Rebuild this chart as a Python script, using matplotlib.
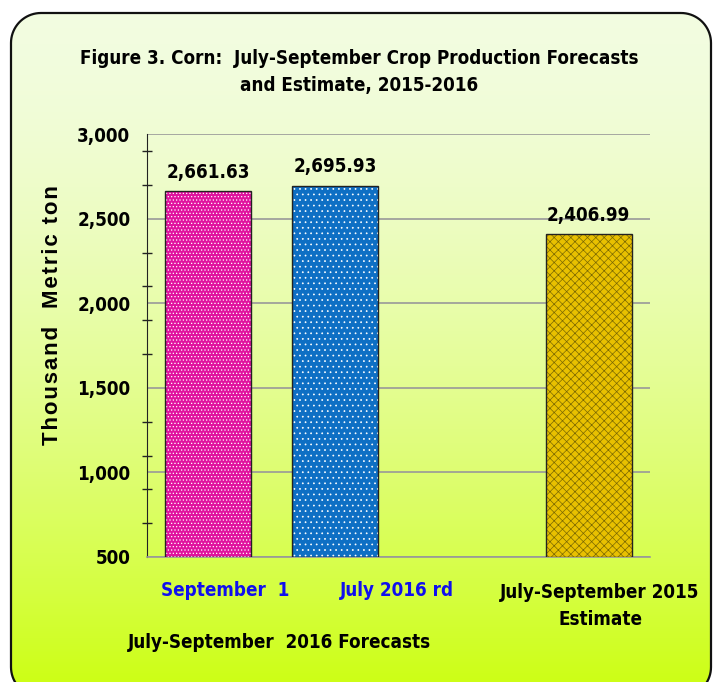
import numpy as np
import matplotlib
matplotlib.use("Agg")
import matplotlib.pyplot as plt
from matplotlib.patches import Polygon
from matplotlib.ticker import FixedLocator, FuncFormatter

# data
categories = ["September  1", "July 2016 rd", "July-September 2015\nEstimate"]
values = [2661.63, 2695.93, 2406.99]
positions = [0, 1, 3]
bar_colors = ["#e0139e", "#0e6fc4", "#e8c000"]
hatch_colors = ["white", "white", "#7a6800"]
hatches = [".....", "...", "xxxx"]
group_label = "July-September  2016 Forecasts"
title = "Figure 3. Corn:  July-September Crop Production Forecasts\nand Estimate, 2015-2016"
ylabel = "Thousand  Metric ton"

plt.rcParams["hatch.linewidth"] = 0.5
narrow = dict(family="DejaVu Sans", fontstretch="condensed", fontweight="bold")
fs = 13.5
W, H = 715, 682
fig = plt.figure(figsize=(W / 100, H / 100), dpi=100)


def rounded_rect(x0, y0, x1, y1, r, n=20):
    # polygon outline of a rounded rectangle (y grows downward)
    pts = []
    for cx, cy, a0 in [(x1 - r, y0 + r, -90), (x1 - r, y1 - r, 0),
                       (x0 + r, y1 - r, 90), (x0 + r, y0 + r, 180)]:
        a = np.radians(np.linspace(a0, a0 + 90, n))
        pts.append(np.column_stack([cx + r * np.cos(a), cy + r * np.sin(a)]))
    return np.vstack(pts)


# background with gradient, rounded border (bottom runs a bit past the edge)
bg = fig.add_axes([0, 0, 1, 1], zorder=-1)
bg.set_xlim(0, W)
bg.set_ylim(H, 0)
bg.axis("off")
t = np.linspace(0, 1, 256) ** 1.6
top = np.array([0.95, 0.99, 0.88])
bot = np.array([0.80, 1.0, 0.06])
grad = top[None, :] * (1 - t[:, None]) + bot[None, :] * t[:, None]
grad = np.repeat(grad[:, None, :], 2, axis=1)
outline = rounded_rect(11, 13, 711, 697, 30)
box = Polygon(outline, closed=True, facecolor="none", edgecolor="#111111",
              linewidth=1.6, transform=bg.transData)
im = bg.imshow(grad, extent=[11, 711, 697, 13], aspect="auto")
im.set_clip_path(box)
bg.add_patch(box)

ax = fig.add_axes([0.2056, 0.1833, 0.703, 0.620])
ax.patch.set_alpha(0)
ax.set_xlim(-0.48, 3.48)
ax.set_ylim(500, 3000)

for p, v, c, hc, h in zip(positions, values, bar_colors, hatch_colors, hatches):
    ax.bar(p, v - 500, bottom=500, width=0.68, color=c, edgecolor=hc, hatch=h,
           linewidth=0, zorder=3)
    ax.bar(p, v - 500, bottom=500, width=0.68, fill=False, edgecolor="#222222",
           linewidth=1.0, zorder=4)
    ax.annotate("{:,.2f}".format(v), (p, v), xytext=(0, 7), textcoords="offset points",
                ha="center", va="bottom", fontsize=fs, **narrow)

ax.yaxis.set_major_locator(FixedLocator(np.arange(500, 3001, 500)))
ax.yaxis.set_minor_locator(FixedLocator(list(np.arange(500, 3000, 200)) + [3000]))
ax.yaxis.set_major_formatter(FuncFormatter(lambda v, p: "{:,.0f}".format(v)))
ax.tick_params(axis="y", which="major", length=0, pad=12, labelsize=fs)
ax.tick_params(axis="y", which="minor", length=7, direction="inout", width=1, color="#222222")
for lab in ax.get_yticklabels():
    lab.set_fontweight("bold")
    lab.set_fontstretch("condensed")
ax.set_xticks([])
ax.yaxis.grid(True, which="major", color="#999999", linewidth=1.2, zorder=0)
ax.set_axisbelow(True)
for s in ["top", "right"]:
    ax.spines[s].set_visible(False)
ax.spines["left"].set_color("#222222")
ax.spines["bottom"].set_color("#999999")
ax.spines["bottom"].set_linewidth(1.2)

# category labels
fig.text(225 / W, 1 - 591 / H, categories[0], ha="center", va="center", color="#1010ee",
         fontsize=fs, **narrow)
fig.text(397 / W, 1 - 591 / H, categories[1], ha="center", va="center", color="#1010ee",
         fontsize=fs, **narrow)
fig.text(600 / W, 1 - 606 / H, categories[2], ha="center", va="center", color="black",
         fontsize=fs, linespacing=1.5, **narrow)
fig.text(279 / W, 1 - 643 / H, group_label, ha="center", va="center", color="black",
         fontsize=fs, **narrow)

fig.text(359 / W, 1 - 72 / H, title, ha="center", va="center", fontsize=fs,
         linespacing=1.55, **narrow)
fig.text(53 / W, 1 - 315 / H, "\u200a".join(ylabel), rotation=90, ha="center", va="center",
         fontsize=16, fontweight="bold", family=["Liberation Sans", "DejaVu Sans"])

fig.savefig("out.png", dpi=100)
